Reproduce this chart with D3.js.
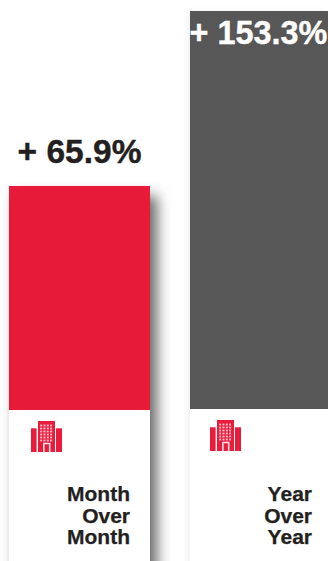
<!DOCTYPE html>
<html>
<head>
<meta charset="utf-8">
<script src="https://cdn.jsdelivr.net/npm/d3@7/dist/d3.min.js"></script>
<style>
html, body { margin: 0; padding: 0; background: #fff; overflow: hidden; }
text { font-family: "Liberation Sans", Arial, sans-serif; font-weight: 700; }
</style>
</head>
<body>
<script>
const values = [65.9, 153.3];
const valueLabels = ["+ 65.9%", "+ 153.3%"];
const periodLabels = [["Month", "Over", "Month"], ["Year", "Over", "Year"]];
const barColors = ["#e81a39", "#575757"];
const labelColors = ["#231f20", "#ffffff"];
const labelSizes = [33.5, 32.4];

const width = 328, height = 561;
const baseY = 410;

const svg = d3.select("body").append("svg")
  .attr("width", width).attr("height", height)
  .style("display", "block");

// The value axis is truncated below zero so both columns stay on one page.
const y = d3.scaleLinear().domain([-46, 153.3]).range([baseY, 11]);
const x = d3.scaleOrdinal().domain([0, 1]).range([9, 190]);
const cardWidth = d3.scaleOrdinal().domain([0, 1]).range([141, 138]);
const cardBase = d3.scaleOrdinal().domain([0, 1]).range([baseY, baseY - 1]);

const defs = svg.append("defs");
const blur = (id, sd) => defs.append("filter").attr("id", id)
  .attr("x", -0.4).attr("y", -0.2).attr("width", 1.8).attr("height", 1.4)
  .append("feGaussianBlur").attr("stdDeviation", sd);
blur("soft", 7);
blur("faint", 3);

const cards = svg.selectAll("g.card").data(values).join("g").attr("class", "card");

// Drop shadow behind each card
cards.append("rect")
  .attr("x", (d, i) => i === 0 ? x(i) + 7 : x(i) - 2)
  .attr("y", (d, i) => y(d) + (i === 0 ? 10 : 0))
  .attr("width", (d, i) => cardWidth(i))
  .attr("height", d => height + 60 - y(d))
  .attr("fill", (d, i) => i === 0 ? "#666666" : "#f0f0f0")
  .attr("filter", (d, i) => i === 0 ? "url(#soft)" : "url(#faint)");

// White card body running to the foot of the page
cards.append("rect")
  .attr("x", (d, i) => x(i))
  .attr("y", (d, i) => cardBase(i))
  .attr("width", (d, i) => cardWidth(i))
  .attr("height", (d, i) => height - cardBase(i))
  .attr("fill", "#fff");

// Value columns
cards.append("rect")
  .attr("x", (d, i) => x(i))
  .attr("y", d => y(d))
  .attr("width", (d, i) => cardWidth(i))
  .attr("height", (d, i) => cardBase(i) - y(d))
  .attr("fill", (d, i) => barColors[i]);

// Value labels
cards.append("text")
  .attr("x", (d, i) => [79.5, 258.5][i])
  .attr("y", (d, i) => [163, 44][i])
  .attr("text-anchor", "middle")
  .attr("font-size", (d, i) => labelSizes[i])
  .attr("fill", (d, i) => labelColors[i])
  .attr("stroke", (d, i) => labelColors[i])
  .attr("stroke-width", 0.4)
  .text((d, i) => valueLabels[i]);

// Building pictogram, in a 31 x 31 box
function building(g) {
  const red = "#ea1c3c";
  g.append("rect").attr("x", 0).attr("y", 7.3).attr("width", 5.6).attr("height", 23.7).attr("fill", red);
  g.append("rect").attr("x", 25).attr("y", 7.3).attr("width", 6).attr("height", 23.7).attr("fill", red);
  g.append("rect").attr("x", 7).attr("y", 0).attr("width", 17).attr("height", 31).attr("fill", red);
  d3.range(6).forEach(r => d3.range(4).forEach(c => {
    g.append("rect").attr("x", 9.2 + c * 3.3).attr("y", 3.6 + r * 3)
      .attr("width", 2).attr("height", 1.8).attr("fill", "#f9c2cc");
  }));
  g.append("path").attr("d", "M12.8 31V22.5H18.7V31").attr("fill", red)
    .attr("stroke", "#fde3e7").attr("stroke-width", 1.6);
}
cards.append("g")
  .attr("transform", (d, i) => `translate(${[31, 210][i]},${[421, 420][i]})`)
  .each(function () { d3.select(this).call(building); });

// Period captions
cards.each(function (d, i) {
  const t = d3.select(this).append("text")
    .attr("text-anchor", "end")
    .attr("font-size", 21)
    .attr("fill", "#231f20")
    .attr("stroke", "#231f20")
    .attr("stroke-width", 0.25);
  periodLabels[i].forEach((line, k) => {
    t.append("tspan")
      .attr("x", [130, 312][i])
      .attr("y", 501 + k * 21.5)
      .text(line);
  });
});
</script>
</body>
</html>
